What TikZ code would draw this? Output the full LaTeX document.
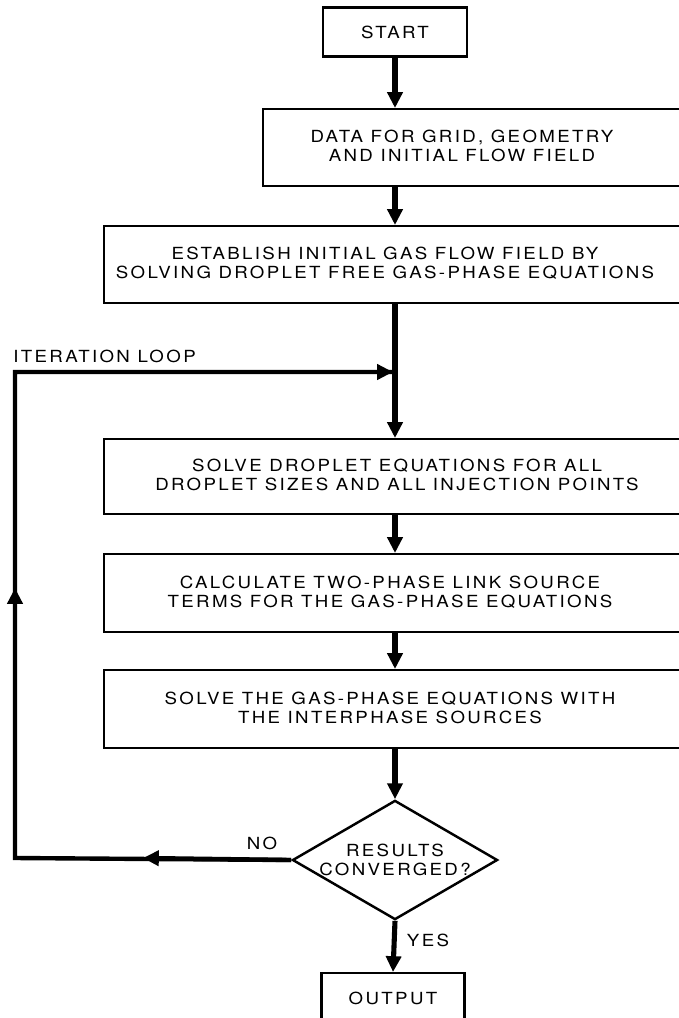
\documentclass[tikz,border=0pt]{standalone}
\usepackage{fontspec}
\setmainfont{TeX Gyre Heros}[FakeStretch=1.12,LetterSpace=14]
\usetikzlibrary{positioning,shapes.geometric,arrows.meta}

\tikzset{
  lbl/.style={font=\fontsize{9.5}{10.5}\selectfont, align=center, inner sep=0pt},
  box/.style={draw, line width=1.4pt, inner sep=0pt},
  flow/.style={line width=2.9pt, -{Triangle[length=9pt,width=8.5pt]}},
  loopline/.style={line width=2.5pt, line join=miter},
  looparrow/.style={line width=2.5pt, -{Triangle[length=9pt,width=8.5pt]}}
}

\begin{document}
\begin{tikzpicture}[x=0.02cm, y=-0.02cm]
\useasboundingbox (0,0) rectangle (679,1018);

% boxes
\node[box, lbl, minimum width=2.88cm, minimum height=0.98cm] (start) at (395,32) {START};

\node[box, anchor=north west, minimum width=8.9cm, minimum height=1.54cm] (data) at (262,108) {};
\node[lbl] (datatxt) at (462,146) {DATA FOR GRID, GEOMETRY\\AND INITIAL FLOW FIELD};

\node[box, anchor=north west, minimum width=12cm, minimum height=1.54cm] (establish) at (103,225) {};
\node[lbl] (establishtxt) at (385,263) {ESTABLISH INITIAL GAS FLOW FIELD BY\\SOLVING DROPLET FREE GAS-PHASE EQUATIONS};

\node[box, anchor=north west, minimum width=12cm, minimum height=1.5cm] (drop) at (103,438) {};
\node[lbl] (droptxt) at (397,475) {SOLVE DROPLET EQUATIONS FOR ALL\\DROPLET SIZES AND ALL INJECTION POINTS};

\node[box, anchor=north west, minimum width=12cm, minimum height=1.56cm] (link) at (103,553) {};
\node[lbl] (linktxt) at (390,592) {CALCULATE TWO-PHASE LINK SOURCE\\TERMS FOR THE GAS-PHASE EQUATIONS};

\node[box, anchor=north west, minimum width=12cm, minimum height=1.56cm] (gas) at (103,669) {};
\node[lbl] (gastxt) at (390,708) {SOLVE THE GAS-PHASE EQUATIONS WITH\\THE INTERPHASE SOURCES};

\node[draw, diamond, line width=1.4pt, aspect=1.72, minimum width=4cm, minimum height=2.32cm, lbl] (conv) at (395,860) {RESULTS\\CONVERGED?};

\node[box, anchor=north, minimum width=2.86cm, minimum height=1.4cm] (output) at (393,972) {};
\node[lbl] (outputtxt) at (393,998) {OUTPUT};

% labels
\node[lbl, anchor=west] (looplbl) at (13,356) {ITERATION LOOP};
\node[lbl] (nolbl) at (262,843) {NO};
\node[lbl] (yeslbl) at (428,940) {YES};

% main flow
\draw[flow] (start.south) -- (start.south |- data.north);
\draw[flow] (data.south -| start) -- (establish.north -| start);
\draw[flow] (establish.south -| start) -- (drop.north -| start);
\draw[flow] (drop.south -| start) -- (link.north -| start);
\draw[flow] (link.south -| start) -- (gas.north -| start);
\draw[flow] (gas.south -| start) -- (conv.north);
\draw[flow] (conv.south) -- (output.north);

% iteration loop
\coordinate (botleft) at (15,858);
\coordinate (topleft) at (15,372);
\coordinate (join) at (393,372);
\coordinate (noarr) at (143,858);
\coordinate (uparr) at (15,588);
\draw[loopline] (conv.west) -- (botleft) -- (topleft) -- (join);
\draw[looparrow] (conv.west) -- (noarr);
\draw[looparrow] (botleft) -- (uparr);
\draw[looparrow] (topleft) -- (join);
\end{tikzpicture}
\end{document}
